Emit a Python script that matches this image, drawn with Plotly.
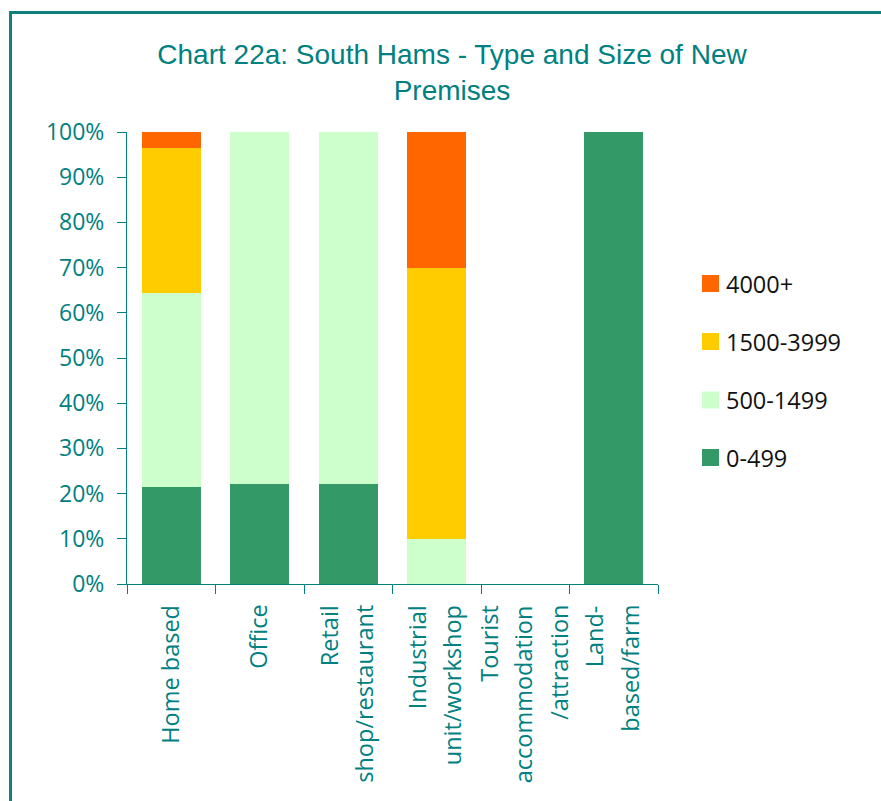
import plotly.graph_objects as go

# Premise types (x categories) and their wrapped labels
categories = ["Home based", "Office", "Retail shop/restaurant",
              "Industrial unit/workshop", "Tourist accommodation /attraction",
              "Land-based/farm"]
category_lines = [["Home based"], ["Office"], ["Retail", "shop/restaurant"],
                  ["Industrial", "unit/workshop"],
                  ["Tourist", "accommodation", "/attraction"],
                  ["Land-", "based/farm"]]

# Size bands (sq ft) and share of new premises in each type (%)
bands = ["0-499", "500-1499", "1500-3999", "4000+"]
share_0_499 = [21.4, 22.2, 22.2, 0.0, 0.0, 100.0]
share_500_1499 = [42.9, 77.8, 77.8, 10.0, 0.0, 0.0]
share_1500_3999 = [32.1, 0.0, 0.0, 60.0, 0.0, 0.0]
share_4000_plus = [3.6, 0.0, 0.0, 30.0, 0.0, 0.0]
shares = [share_0_499, share_500_1499, share_1500_3999, share_4000_plus]
band_colors = ["#339966", "#CCFFCC", "#FFCC00", "#FF6600"]

y_tick_vals = [0, 10, 20, 30, 40, 50, 60, 70, 80, 90, 100]
y_tick_text = ["0%", "10%", "20%", "30%", "40%", "50%", "60%", "70%",
               "80%", "90%", "100%"]

TEAL = "#008080"
W, H = 881, 801
# plot area in pixels
L, R, T, B = 127, 658, 132, 584


def px_x(px):
    return (px - L) / (R - L)


def px_y(py):
    return (B - py) / (B - T)


fig = go.Figure()
for name, vals, col in zip(bands, shares, band_colors):
    fig.add_trace(go.Bar(x=categories, y=vals, name=name,
                         marker=dict(color=col, line=dict(width=0)),
                         showlegend=False))

fig.update_layout(
    width=W, height=H, autosize=False,
    margin=dict(l=L, r=W - R, t=T, b=H - B, pad=0),
    barmode="stack", bargap=0.33,
    plot_bgcolor="white", paper_bgcolor="white",
    font=dict(family="Open Sans, Noto Sans, sans-serif", color=TEAL, size=23),
    title=dict(text="Chart 22a: South Hams - Type and Size of New<br>Premises",
               x=452 / W, xanchor="center", y=1 - 64 / H, yanchor="top",
               font=dict(family="Liberation Sans, Arial, sans-serif",
                         size=28, color=TEAL)),
)

fig.update_yaxes(range=[0, 100], tickmode="array", tickvals=y_tick_vals,
                 ticktext=y_tick_text,
                 showgrid=False, zeroline=False, showline=True,
                 linecolor=TEAL, linewidth=1, ticks="outside", ticklen=9,
                 tickcolor=TEAL, tickfont=dict(size=23, color=TEAL),
                 ticklabelstandoff=8)
fig.update_xaxes(showticklabels=False, showline=True, linecolor=TEAL,
                 linewidth=1, ticks="outside", ticklen=9, tickcolor=TEAL,
                 tickson="boundaries", showgrid=False)

# rotated, centred category labels (one annotation per text line)
line_gap = 35
for cat, lines in zip(categories, category_lines):
    n = len(lines)
    for i, line in enumerate(lines):
        fig.add_annotation(x=cat, xref="x", y=px_y(603), yref="paper",
                           text=line, textangle=-90, showarrow=False,
                           xanchor="center", yanchor="top",
                           xshift=(i - (n - 1) / 2) * line_gap - 2,
                           font=dict(size=23.5, color=TEAL))

# legend: largest band on top
legend_y = [283.5, 341.5, 400, 457.5]
for (name, col), cy in zip(reversed(list(zip(bands, band_colors))), legend_y):
    fig.add_shape(type="rect", xref="paper", yref="paper",
                  x0=px_x(702), x1=px_x(719), y0=px_y(cy - 8.5), y1=px_y(cy + 8.5),
                  fillcolor=col, line=dict(width=0))
    fig.add_annotation(x=px_x(724), y=px_y(cy), xref="paper", yref="paper",
                       text=name, showarrow=False, xanchor="left", yanchor="middle",
                       font=dict(size=23.5, color="#111111"))

# chart frame
fig.add_shape(type="rect", xref="paper", yref="paper", layer="below",
              x0=px_x(10.5), x1=px_x(920), y0=px_y(840), y1=px_y(12.5),
              line=dict(color="#0E807E", width=3), fillcolor="rgba(0,0,0,0)")

fig.write_html("out.html")
